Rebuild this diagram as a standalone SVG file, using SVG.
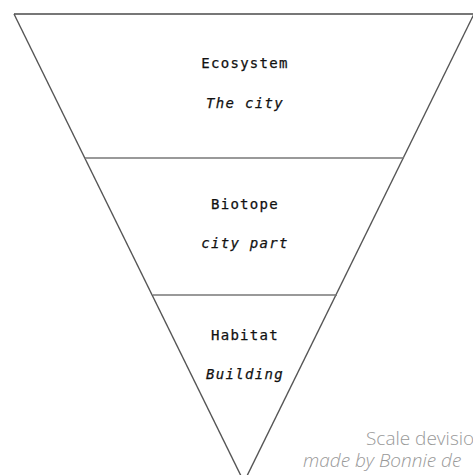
<svg xmlns="http://www.w3.org/2000/svg" width="473" height="475" viewBox="0 0 473 475">
  <style>
    .edge { fill: none; stroke: #555; stroke-width: 1.4; }
    .top { stroke: #777; stroke-width: 2; }
    .divider { stroke: #777; stroke-width: 1.6; }
    .name { font-family: "DejaVu Sans Mono", "Liberation Mono", monospace; font-size: 14px; letter-spacing: 1.3px; fill: #111; stroke: #111; stroke-width: 0.25; text-anchor: middle; }
    .sub { font-family: "DejaVu Sans Mono", "Liberation Mono", monospace; font-size: 14px; letter-spacing: 1.3px; font-style: italic; fill: #111; stroke: #111; stroke-width: 0.25; text-anchor: middle; }
    .credit { font-family: "Open Sans", "Liberation Sans", sans-serif; font-size: 19px; font-weight: 300; fill: #999; }
  </style>
  <rect width="473" height="475" fill="#fff"/>

  <!-- inverted pyramid outline -->
  <g id="pyramid">
    <line class="edge top" x1="14" y1="14" x2="480" y2="14"/>
    <line class="edge" x1="14" y1="14" x2="244" y2="482"/>
    <line class="edge" x1="474" y1="14" x2="244" y2="482"/>
  </g>

  <!-- level separators -->
  <g id="connectors">
    <line class="divider" x1="85" y1="158" x2="404" y2="158"/>
    <line class="divider" x1="153" y1="295" x2="337" y2="295"/>
  </g>

  <g id="ecosystem">
    <text class="name" x="245" y="68">Ecosystem</text>
    <text class="sub" x="245" y="108">The city</text>
  </g>

  <g id="biotope">
    <text class="name" x="245" y="209">Biotope</text>
    <text class="sub" x="245" y="248">city part</text>
  </g>

  <g id="habitat">
    <text class="name" x="245" y="340">Habitat</text>
    <text class="sub" x="245" y="379">Building</text>
  </g>

  <g id="credit">
    <text class="credit" x="366" y="445">Scale devisio</text>
    <text class="credit" x="303" y="467" font-style="italic">made by Bonnie de</text>
  </g>
</svg>
